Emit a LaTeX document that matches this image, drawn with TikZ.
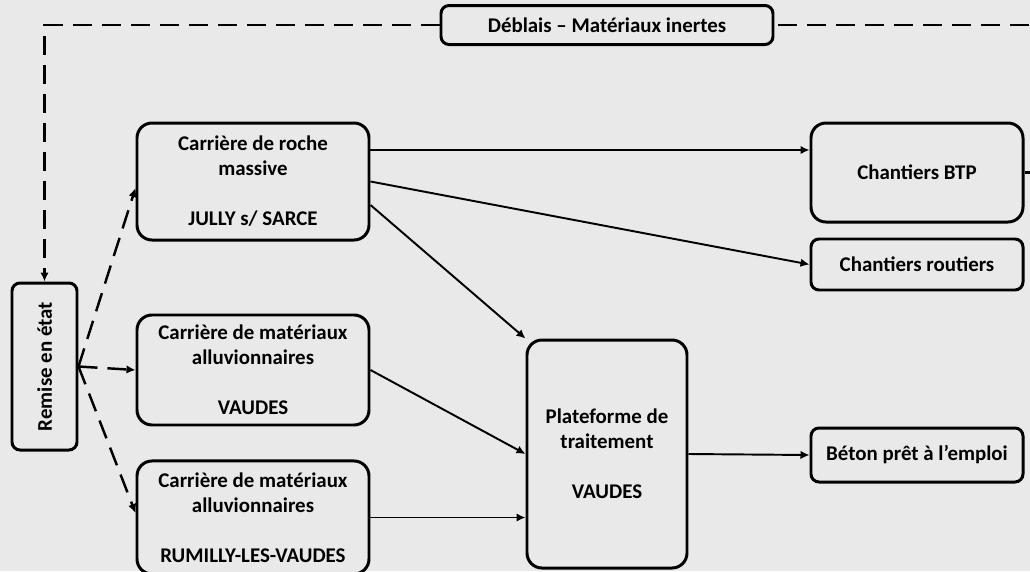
\documentclass[tikz,border=0pt]{standalone}
\usepackage{fontspec}
\setmainfont{Carlito}
\usetikzlibrary{arrows.meta,positioning,calc}
\definecolor{bgray}{RGB}{233,233,233}
\tikzset{
  flux schemes/.style = {
    line width    = 1.1pt,
    font          = \bfseries\fontsize{11.9}{14.2}\selectfont,
    node distance = 0mm,
    % blocs
    bx/.style = {
      draw, fill=bgray,
      line width=1.7pt,
      rounded corners=0.3cm,
      align=center, inner sep=0pt
    },
    bx small/.style = { bx, rounded corners=0.16cm },
    % lignes, fleches
    connect line/.style = {-{Latex[length=1.8mm,width=1.7mm]}},
    return line/.style  = {connect line, line width=1.4pt,
                           dash pattern=on 0.38cm off 0.2cm},
  }
}
\begin{document}
\begin{tikzpicture}[flux schemes]

    \fill[bgray] (0,0) rectangle (20.6,-11.42);
    \useasboundingbox (0,0) rectangle (20.6,-11.42);

    \node[bx, minimum width=4.64cm, minimum height=2.34cm] (roche) at (5.06,-3.63)
        {Carri\`ere de roche\\massive\\[0.5cm]JULLY s/ SARCE};
    \node[bx, minimum width=4.64cm, minimum height=2.2cm, below=1.44cm of roche] (vaudes)
        {Carri\`ere de mat\'eriaux\\alluvionnaires\\[0.5cm]VAUDES};
    \node[bx, minimum width=4.64cm, minimum height=2.26cm, below=0.66cm of vaudes] (rumilly)
        {Carri\`ere de mat\'eriaux\\alluvionnaires\\[0.5cm]RUMILLY-LES-VAUDES};

    \node[bx, minimum width=3.2cm, minimum height=4.56cm] (plateforme) at (12.14,-9.08)
        {Plateforme de\\traitement\\[0.5cm]VAUDES};

    \node[bx, minimum width=4.24cm, minimum height=1.98cm] (btp) at (18.34,-3.45)
        {Chantiers BTP};
    \node[bx small, minimum width=4.24cm, minimum height=1.02cm, below=0.28cm of btp] (routiers)
        {Chantiers routiers};
    \node[bx small, minimum width=4.24cm, minimum height=1.08cm] (beton) at (18.34,-9.1)
        {B\'eton pr\^et \`a l'emploi};

    % tourne : east = haut, south = droite
    \node[bx small, rotate=90, minimum width=3.34cm, minimum height=1.3cm] (remise) at (0.89,-7.33)
        {Remise en \'etat};

    \node[bx small, minimum width=6.64cm, minimum height=0.78cm] (deblais) at (12.14,-0.5)
        {D\'eblais -- Mat\'eriaux inertes};

    % retour
    \draw[return line, -] (btp.east) --++ (0.6,0) |- (deblais.east);
    \draw[return line] (deblais.west) -| (remise.east);
    \draw[return line] (remise.south) -- ([yshift=-1.3mm]roche.west);
    \draw[return line] (remise.south) -- (vaudes.west);
    \draw[return line] (remise.south) -- ([yshift=0.9mm]rumilly.west);

    \draw[connect line] ([yshift=6.3mm]roche.east) -- ([yshift=6.3mm]roche.east -| btp.west);
    \draw[connect line] (roche.east) -- (routiers.west);
    \draw[connect line] ([yshift=-4.7mm]roche.east) -- (plateforme.north west);
    \draw[connect line] (vaudes.east) -- (plateforme.west);
    \draw[connect line] (rumilly.east) -- (rumilly.east -| plateforme.west);
    \draw[connect line] (plateforme.east) -- (beton.west);

\end{tikzpicture}
\end{document}
